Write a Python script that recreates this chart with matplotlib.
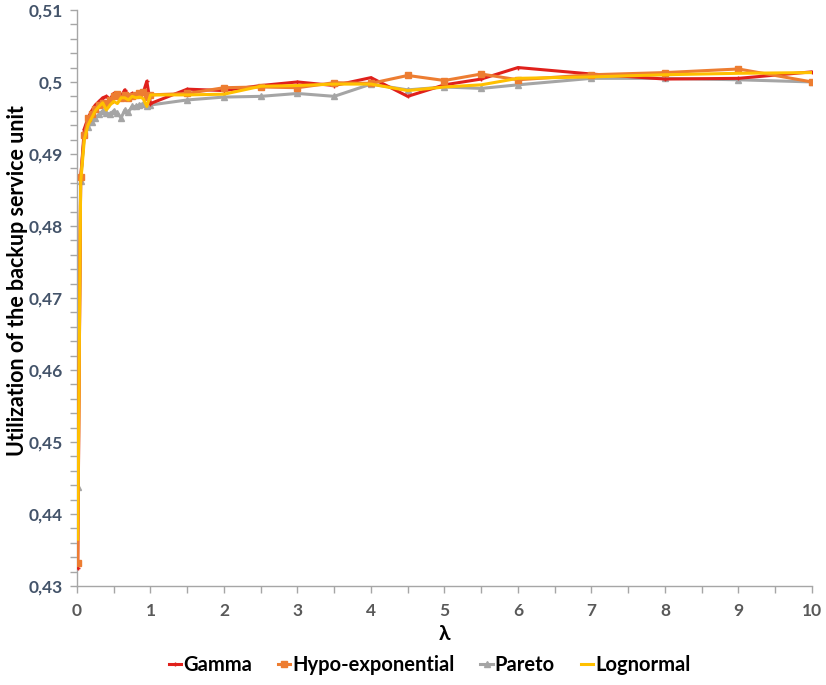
import matplotlib.pyplot as plt
from matplotlib.ticker import MultipleLocator, FuncFormatter

plt.rcParams['font.family'] = ['Lato', 'DejaVu Sans']

# lambda values
lam = [0.01, 0.05, 0.1, 0.15, 0.2, 0.25, 0.3, 0.35, 0.4, 0.45, 0.5,
       0.55, 0.6, 0.65, 0.7, 0.75, 0.8, 0.85, 0.9, 0.95, 1.0,
       1.5, 2, 2.5, 3, 3.5, 4, 4.5, 5, 5.5, 6, 7, 8, 9, 10]

gamma = [0.4325, 0.4865, 0.4935, 0.4950, 0.4960, 0.4968, 0.4973, 0.4978, 0.4980, 0.4976, 0.4984,
         0.4983, 0.4980, 0.4989, 0.4981, 0.4984, 0.4983, 0.4986, 0.4985, 0.5001, 0.4970,
         0.4990, 0.4988, 0.4995, 0.5000, 0.4995, 0.5006, 0.4980, 0.4996, 0.5004, 0.5020,
         0.5011, 0.5004, 0.5005, 0.5014]

hypo = [0.4332, 0.4868, 0.4926, 0.4950, 0.4955, 0.4962, 0.4968, 0.4971, 0.4970, 0.4975, 0.4980,
        0.4983, 0.4978, 0.4982, 0.4978, 0.4980, 0.4982, 0.4984, 0.4986, 0.4979, 0.4982,
        0.4984, 0.4992, 0.4993, 0.4992, 0.4999, 0.4998, 0.5009, 0.5002, 0.5011, 0.5003,
        0.5010, 0.5013, 0.5018, 0.5000]

pareto = [0.4437, 0.4862, 0.4928, 0.4937, 0.4945, 0.4950, 0.4955, 0.4960, 0.4957, 0.4955, 0.4960,
          0.4957, 0.4950, 0.4961, 0.4958, 0.4966, 0.4966, 0.4968, 0.4970, 0.4966, 0.4968,
          0.4975, 0.4979, 0.4980, 0.4984, 0.4980, 0.4997, 0.4989, 0.4993, 0.4991, 0.4996,
          0.5005, 0.5005, 0.5003, 0.5000]

lognormal = [0.4365, 0.4860, 0.4920, 0.4940, 0.4950, 0.4960, 0.4966, 0.4971, 0.4961, 0.4968, 0.4973,
             0.4970, 0.4978, 0.4978, 0.4975, 0.4980, 0.4978, 0.4979, 0.4977, 0.4966, 0.4982,
             0.4982, 0.4983, 0.4994, 0.4995, 0.4997, 0.4997, 0.4988, 0.4993, 0.4996, 0.5005,
             0.5007, 0.5010, 0.5012, 0.5013]

fig = plt.figure(figsize=(8.26, 6.85), dpi=100)
ax = fig.add_axes([0.0932, 0.1445, 0.8898, 0.841])

ax.plot(lam, gamma, color='#E0201B', lw=2.2, marker='+', ms=3, mew=1, label='Gamma', zorder=3)
ax.plot(lam, hypo, color='#ED7D31', lw=2.2, marker='s', ms=5, label='Hypo-exponential', zorder=4)
ax.plot(lam, pareto, color='#A5A5A5', lw=2.2, marker='^', ms=5, label='Pareto', zorder=2)
ax.plot(lam, lognormal, color='#FFC000', lw=2.2, label='Lognormal', zorder=5)

ax.set_xlim(0, 10)
ax.set_ylim(0.43, 0.51)
ax.xaxis.set_major_locator(MultipleLocator(1))
ax.xaxis.set_minor_locator(MultipleLocator(0.5))
ax.yaxis.set_major_locator(MultipleLocator(0.01))
ax.yaxis.set_minor_locator(MultipleLocator(0.002))
ax.yaxis.set_major_formatter(FuncFormatter(lambda v, p: f"{round(v, 3):g}".replace('.', ',')))

for s in ['top', 'right']:
    ax.spines[s].set_visible(False)
for s in ['left', 'bottom']:
    ax.spines[s].set_color('#A6A6A6')
    ax.spines[s].set_linewidth(1)

ax.tick_params(which='both', color='#A6A6A6', length=5, width=1)
ax.tick_params(axis='y', labelsize=12.5, labelcolor='#44546A', pad=5)
ax.tick_params(axis='x', labelsize=12.5, labelcolor='#595959', pad=7)
for t in ax.get_xticklabels() + ax.get_yticklabels():
    t.set_fontweight('bold')

ax.set_xlabel('λ', fontsize=15, fontweight='bold', labelpad=4)
ax.set_ylabel('Utilization of the backup service unit', fontsize=15.5, fontweight='bold')
ax.yaxis.set_label_coords(-0.067, 0.53)

fig.legend(loc='lower center', bbox_to_anchor=(0.52, -0.012), ncol=4, frameon=False,
           prop={'weight': 'bold', 'size': 14.5}, handlelength=0.6,
           handletextpad=0.1, columnspacing=1.3, markerscale=0.8)

fig.savefig('out.png', dpi=100)
